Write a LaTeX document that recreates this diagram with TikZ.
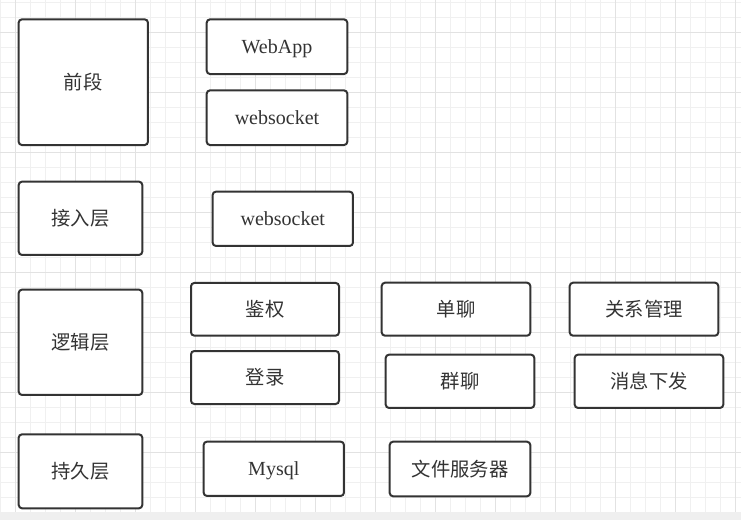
\documentclass[tikz,border=0pt]{standalone}
\usepackage{fontspec}
\setmainfont{Liberation Serif}
\newfontfamily\cjk{Noto Sans CJK SC}
\definecolor{ink}{HTML}{333333}
\definecolor{gridminor}{HTML}{F0F0F0}
\definecolor{gridmajor}{HTML}{E2E2E2}
\definecolor{strip}{HTML}{EFEFEF}
\tikzset{
  box/.style={draw=ink, line width=1.5pt, rounded corners=2.5pt, fill=white,
    inner sep=0pt, text=ink, font=\fontsize{15}{18}\selectfont,
    text height=12pt, text depth=1.5pt},
  cbox/.style={draw=ink, line width=1.5pt, rounded corners=2.5pt, fill=white,
    inner sep=0pt, text=ink, font=\cjk\fontsize{14.5}{18}\selectfont},
  wh/.style 2 args={minimum width={#1*0.75pt}, minimum height={#2*0.75pt}},
}
\begin{document}
\begin{tikzpicture}[x=0.75pt, y=-0.75pt]
\useasboundingbox (0,0) rectangle (741,520);
% grid
\foreach \gx in {0,15,...,735} \draw[gridminor, line width=0.75pt] (\gx+0.3,0) -- (\gx+0.3,512);
\foreach \gy in {2,17,...,512} \draw[gridminor, line width=0.75pt] (0,\gy+0.3) -- (741,\gy+0.3);
\foreach \gx in {15,75,...,735} \draw[gridmajor, line width=0.75pt] (\gx+0.3,0) -- (\gx+0.3,512);
\foreach \gy in {32,92,...,512} \draw[gridmajor, line width=0.75pt] (0,\gy+0.3) -- (741,\gy+0.3);
\fill[strip] (0,512) rectangle (741,520);
% boxes
\node[cbox, wh={129.3}{125.7}] (qd) at (83.3,82.2) {前段};
\node[box, wh={140.6}{54.7}] (webapp) at (277,46.7) {WebApp};
\node[box, wh={140.6}{54.7}] (ws1) at (277,117.7) {websocket};
\node[cbox, wh={123.6}{73.3}] (jr) at (80.5,218.3) {接入层};
\node[box, wh={140.3}{54.3}] (ws2) at (282.8,218.8) {websocket};
\node[cbox, wh={123.6}{105.3}] (lj) at (80.5,342.3) {逻辑层};
\node[cbox, wh={148}{52.7}] (jq) at (265,309.3) {鉴权};
\node[cbox, wh={148}{53}] (dl) at (265,377.5) {登录};
\node[cbox, wh={148.6}{53}] (dan) at (456,309.2) {单聊};
\node[cbox, wh={148.6}{53.3}] (qun) at (460,381.3) {群聊};
\node[cbox, wh={148.6}{53}] (gx) at (644,309.2) {关系管理};
\node[cbox, wh={148.6}{53.3}] (xx) at (649,381.3) {消息下发};
\node[cbox, wh={123.6}{74}] (cj) at (80.5,471.3) {持久层};
\node[box, wh={140.3}{54.3}] (mysql) at (273.8,468.8) {Mysql};
\node[cbox, wh={140.6}{54.6}] (file) at (460,469) {文件服务器};
\end{tikzpicture}
\end{document}
